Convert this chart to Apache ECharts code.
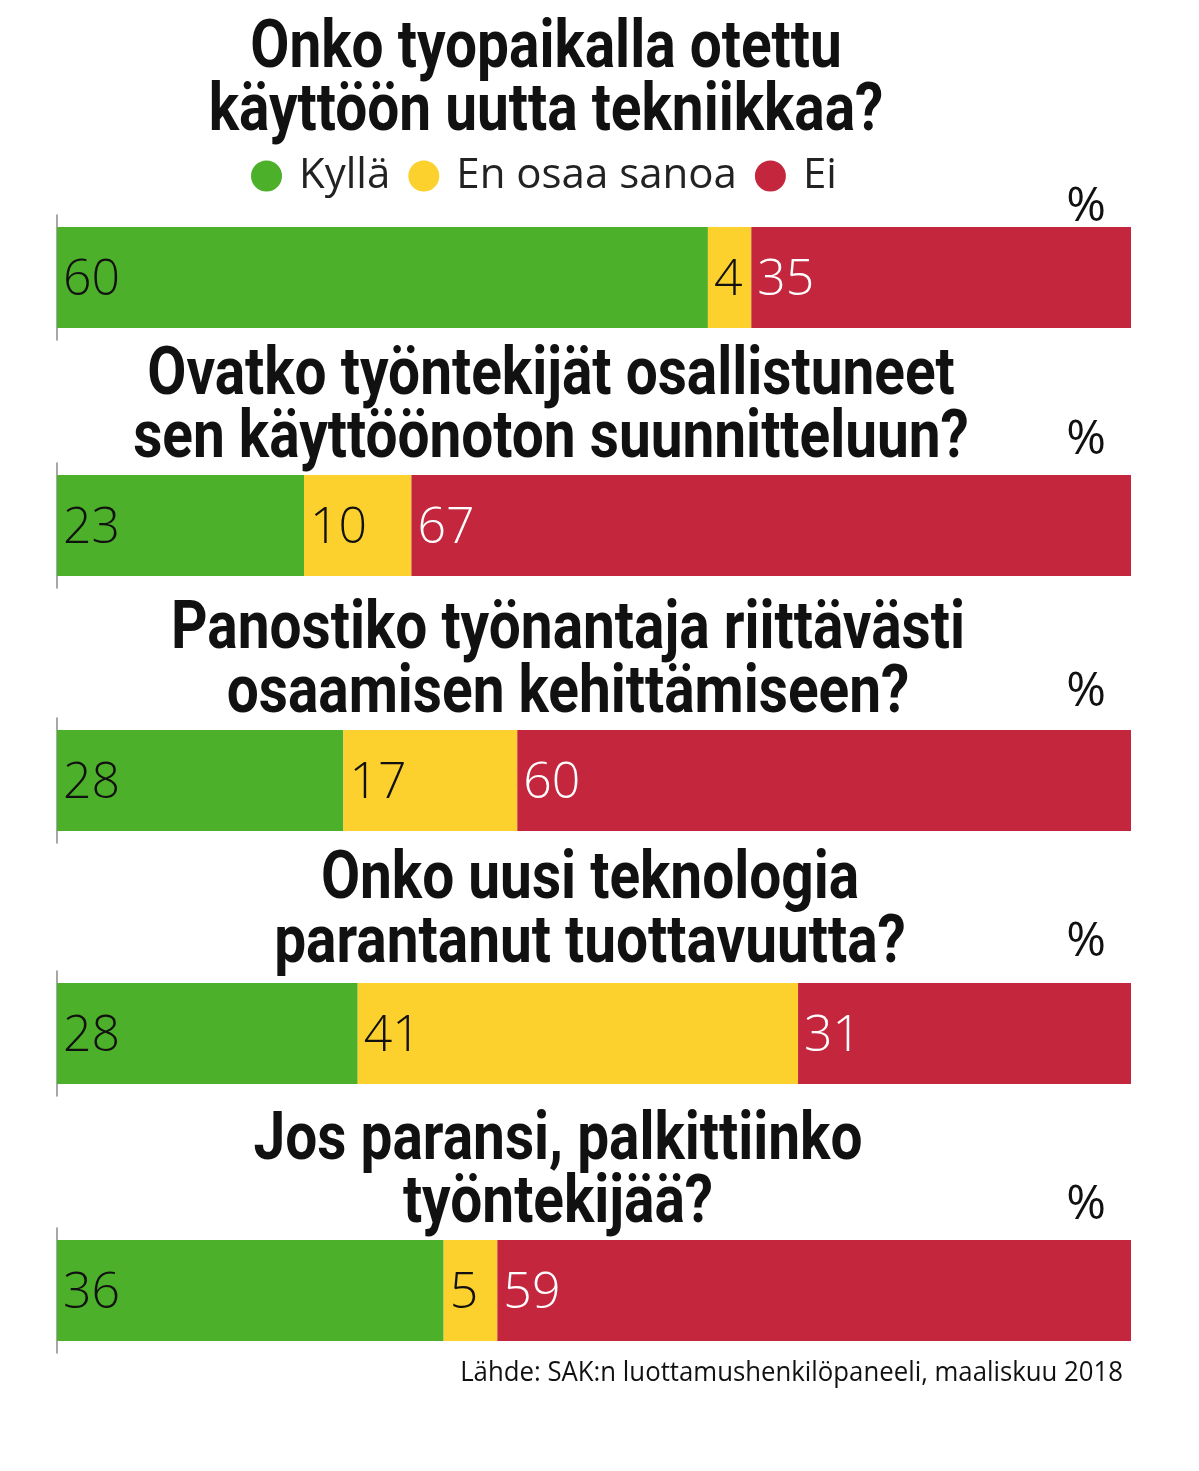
<!DOCTYPE html>
<html>
<head>
<meta charset="utf-8">
<script src="https://cdn.jsdelivr.net/npm/echarts@6/dist/echarts.min.js"></script>
<style>
html,body{margin:0;padding:0;background:#fff;}
#chart{width:1199px;height:1471px;}
</style>
</head>
<body>
<div id="chart"></div>
<script>
// ---- data ----
var seriesNames = ['Kyllä', 'En osaa sanoa', 'Ei'];
var questions = [
  ['Onko tyopaikalla otettu', 'käyttöön uutta tekniikkaa?'],
  ['Ovatko työntekijät osallistuneet', 'sen käyttöönoton suunnitteluun?'],
  ['Panostiko työnantaja riittävästi', 'osaamisen kehittämiseen?'],
  ['Onko uusi teknologia', 'parantanut tuottavuutta?'],
  ['Jos paransi, palkittiinko', 'työntekijää?']
];
var kylla = [60, 23, 28, 28, 36];
var enOsaa = [4, 10, 17, 41, 5];
var ei = [35, 67, 60, 31, 59];
var unitLabel = '%';
var sourceText = 'Lähde: SAK:n luottamushenkilöpaneeli, maaliskuu 2018';

// ---- layout / style ----
var colors = ['#4DB02A', '#FDD12D', '#C4263E'];
var labelColors = ['#111', '#111', '#fff'];
var gridTops = [215, 463, 718, 971, 1228];
var gridH = 125;
var titleCx = [546, 551, 568, 590, 558];
var titleY = [[50, 113], [377, 440], [631, 695], [881, 945], [1142, 1205]];
var pctY = [207, 440, 692, 942, 1205];

var chart = echarts.init(document.getElementById('chart'));
var valueSets = [kylla, enOsaa, ei];

var grids = [], xAxes = [], yAxes = [], series = [], graphics = [];
for (var i = 0; i < questions.length; i++) {
  var total = kylla[i] + enOsaa[i] + ei[i];
  grids.push({left: 57, right: 68, top: gridTops[i], height: gridH});
  xAxes.push({type: 'value', gridIndex: i, min: 0, max: total, show: false});
  yAxes.push({
    type: 'category', gridIndex: i, data: ['q' + (i + 1)],
    axisLine: {show: true, lineStyle: {color: '#8a8a8a', width: 1.5}},
    axisTick: {show: false}, axisLabel: {show: false}, splitLine: {show: false}
  });
  for (var s = 0; s < 3; s++) {
    series.push({
      type: 'bar', name: seriesNames[s], stack: 'p' + i,
      xAxisIndex: i, yAxisIndex: i, barWidth: 101,
      data: [valueSets[s][i]],
      itemStyle: {color: colors[s]},
      label: {
        show: true, position: 'insideLeft', distance: 6, offset: [0, 3], formatter: '{c}',
        fontFamily: 'Open Sans', fontWeight: 300, fontSize: 50, color: labelColors[s]
      },
      emphasis: {disabled: true}, animation: false
    });
  }
  for (var l = 0; l < 2; l++) {
    graphics.push({
      type: 'text', x: titleCx[i], y: titleY[i][l], scaleX: 0.86,
      style: {
        text: questions[i][l], align: 'center', verticalAlign: 'middle',
        font: 'bold 66px Roboto', fill: '#111'
      }
    });
  }
  graphics.push({
    type: 'text', x: 1106, y: pctY[i],
    style: {text: unitLabel, align: 'right', verticalAlign: 'middle',
      font: '48px "Open Sans"', fill: '#111'}
  });
}
graphics.push({
  type: 'text', x: 1123, y: 1373, scaleX: 0.92,
  style: {text: sourceText, align: 'right', verticalAlign: 'middle',
    font: '28px "Open Sans"', fill: '#111'}
});

chart.setOption({
  backgroundColor: '#fff',
  animation: false,
  color: colors,
  legend: {
    data: seriesNames, left: 246, top: 150, icon: 'circle',
    itemWidth: 31, itemHeight: 31, itemGap: 18,
    textStyle: {fontFamily: 'Open Sans', fontSize: 42, color: '#222', padding: [0, 0, 0, 12]},
    selectedMode: false
  },
  grid: grids, xAxis: xAxes, yAxis: yAxes, series: series,
  graphic: graphics
});
</script>
</body>
</html>
